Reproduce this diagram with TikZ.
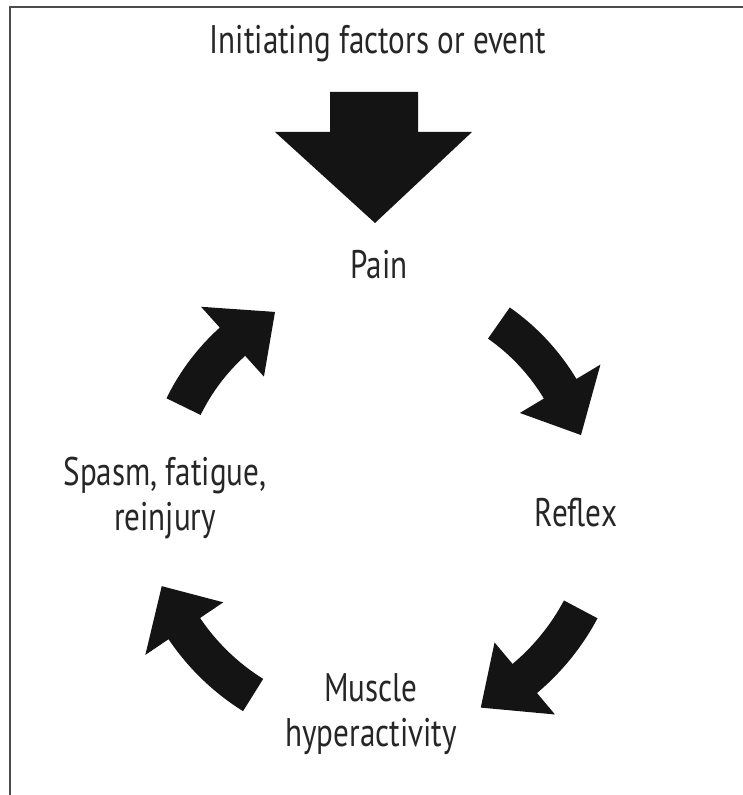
\documentclass[tikz,border=0pt]{standalone}
\usepackage{fontspec}
\setmainfont[FakeStretch=0.78]{PT Sans}
\usepackage{tikz}

\newcommand{\cyclearrow}[4]{%
  \fill[black!92] (#1:#4-19) arc[start angle=#1, end angle=#2, radius=#4-19]
    -- (#2:#4-47) -- (#3:#4) -- (#2:#4+47) -- (#2:#4+19)
    arc[start angle=#2, end angle=#1, radius=#4+19] -- cycle;}

\begin{document}
\begin{tikzpicture}[x=0.02cm, y=0.02cm,
  main_label/.style={text=black!85, inner sep=0pt, align=center, font=\fontsize{22.7}{26}\selectfont}]

    \useasboundingbox (0,0) rectangle (743,795);
    \draw[black!70, line width=0.04cm] (10,0) -- (10,788) -- (743,788);

	\node[main_label, anchor=base] (1) at (378, 741) {Initiating factors or event};
    \node[main_label, anchor=base] (2) at (379, 516) {Pain};
    \node[main_label, anchor=base] (3) at (576, 268) {Reflex};
    \node[main_label] (4) at (371, 81) {Muscle\\hyperactivity};
    \node[main_label] (5) at (165, 297) {Spasm, fatigue,\\reinjury};

    % big arrow into pain
    \fill[black!92] (330,703) -- (418,703) -- (418,663) -- (472,663) -- (375,572)
        -- (275,663) -- (330,663) -- cycle;

    % the cycle
    \begin{scope}[shift={(375,295)}]
    \cyclearrow{55}{31}{17.5}{216}
    \cyclearrow{-28}{-50}{-63}{233}
    \cyclearrow{-122}{-146}{-158}{230}
    \cyclearrow{154}{132}{118}{213}
    \end{scope}

\end{tikzpicture}
\end{document}
